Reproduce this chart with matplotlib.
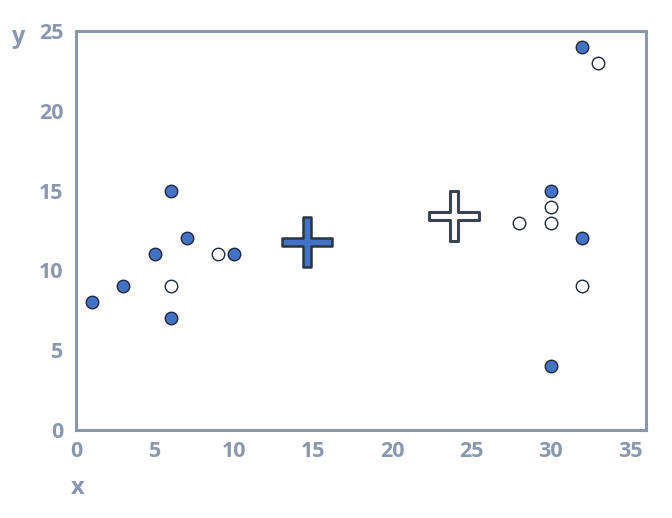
import numpy as np
import matplotlib
matplotlib.use('Agg')
from matplotlib import pyplot as plt
from matplotlib.path import Path

# group 1 (filled blue points)
x_blue = [1, 3, 5, 6, 7, 6, 10, 30, 32, 32, 30]
y_blue = [8, 9, 11, 15, 12, 7, 11, 15, 24, 12, 4]

# group 2 (open points)
x_white = [6, 9, 28, 30, 30, 32, 33]
y_white = [9, 11, 13, 14, 13, 9, 23]

# centroids (crosses)
cent_blue = (14.6, 11.8)
cent_white = (23.9, 13.4)

x_ticks = [0, 5, 10, 15, 20, 25, 30, 35]
y_ticks = [0, 5, 10, 15, 20, 25]

GRAY = '#8A97AD'
BLUE = '#4472C4'
EDGE = '#1E2A38'

plt.rcParams['font.family'] = ['Open Sans', 'DejaVu Sans']


def cross_marker(w=0.14):
    verts = [(-w, 1), (w, 1), (w, w), (1, w), (1, -w), (w, -w), (w, -1),
             (-w, -1), (-w, -w), (-1, -w), (-1, w), (-w, w), (-w, 1)]
    codes = [Path.MOVETO] + [Path.LINETO] * 11 + [Path.CLOSEPOLY]
    return Path(verts, codes)


def plot_chart():
    fig = plt.figure(figsize=(6.72, 5.18), dpi=100)
    ax = fig.add_axes([0.113, 0.170, 0.848, 0.770])

    ax.plot(x_blue, y_blue, 'o', ms=9, mfc=BLUE, mec=EDGE, mew=1.0, zorder=3)
    ax.plot(x_white, y_white, 'o', ms=9, mfc='white', mec=EDGE, mew=1.0, zorder=3)

    plus = cross_marker()
    ax.plot([cent_blue[0]], [cent_blue[1]], marker=plus, ms=36, mfc=BLUE,
            mec='#2B3540', mew=1.8, ls='none', zorder=4)
    ax.plot([cent_white[0]], [cent_white[1]], marker=plus, ms=36, mfc='white',
            mec='#3A4450', mew=2.2, ls='none', zorder=4)

    ax.set_xlim(0, 36)
    ax.set_ylim(0, 25)
    ax.set_xticks(x_ticks)
    ax.set_yticks(y_ticks)
    ax.tick_params(length=0, labelsize=15.5, labelcolor=GRAY)
    ax.tick_params(axis='x', pad=8)
    ax.tick_params(axis='y', pad=9)
    for lab in ax.get_xticklabels() + ax.get_yticklabels():
        lab.set_fontweight('bold')

    for s in ax.spines.values():
        s.set_color(GRAY)
        s.set_linewidth(2.2)

    fig.text(11 / 672, 1 - 37 / 518, 'y', color=GRAY, fontsize=17,
             fontweight='bold', ha='left', va='center')
    fig.text(71 / 672, 1 - 488 / 518, 'x', color=GRAY, fontsize=17,
             fontweight='bold', ha='left', va='center')

    fig.savefig('out.png', dpi=100)


if __name__ == '__main__':
    plot_chart()
